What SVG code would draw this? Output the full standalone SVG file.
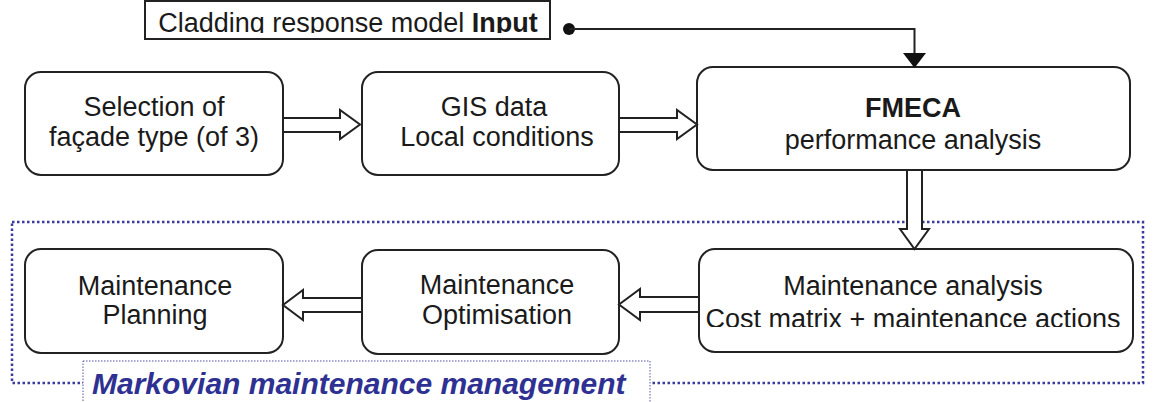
<svg xmlns="http://www.w3.org/2000/svg" width="1153" height="402" viewBox="0 0 1153 402">
  <style>
    .node { fill: #ffffff; stroke: #222222; stroke-width: 2; }
    .t { font-family: "Liberation Sans", Arial, sans-serif; font-size: 27px; fill: #1a1a1a; text-anchor: middle; }
    .b { font-weight: bold; }
    .hollow { fill: #ffffff; stroke: #222222; stroke-width: 2; stroke-linejoin: miter; }
    .frame { fill: none; stroke: #3b3b9e; stroke-width: 2.5; stroke-dasharray: 2.5 2.5; }
    .labelbox { fill: #ffffff; stroke: #5555aa; stroke-width: 1; stroke-dasharray: 1.5 1.5; }
    .label { font-family: "Liberation Sans", Arial, sans-serif; font-size: 30px; font-weight: bold; font-style: italic; fill: #2e3192; }
  </style>
  <defs>
    <clipPath id="clipTop"><rect x="0" y="0" width="1153" height="33"/></clipPath>
    <clipPath id="clipCost"><rect x="0" y="0" width="1153" height="327"/></clipPath>
  </defs>

  <rect width="1153" height="402" fill="#ffffff"/>

  <g id="markovian-frame">
    <rect class="frame" x="12" y="222" width="1131" height="161"/>
  </g>

  <g id="input">
    <rect x="145" y="1" width="405" height="38" fill="#ffffff" stroke="#222222" stroke-width="2"/>
    <text class="t" x="348" y="32" clip-path="url(#clipTop)">Cladding response model <tspan class="b">Input</tspan></text>
  </g>

  <g id="selection">
    <rect class="node" x="25" y="72" width="258" height="103" rx="16"/>
    <text class="t" x="154" y="116">Selection of</text>
    <text class="t" x="154" y="146">façade type (of 3)</text>
  </g>

  <g id="gis">
    <rect class="node" x="362" y="72" width="257" height="103" rx="16"/>
    <text class="t" x="494" y="116">GIS data</text>
    <text class="t" x="497" y="146">Local conditions</text>
  </g>

  <g id="fmeca">
    <rect class="node" x="697" y="67" width="433" height="103" rx="16"/>
    <text class="t b" x="913" y="117">FMECA</text>
    <text class="t" x="913" y="149">performance analysis</text>
  </g>

  <g id="planning">
    <rect class="node" x="25" y="249" width="258" height="104" rx="16"/>
    <text class="t" x="155" y="295">Maintenance</text>
    <text class="t" x="155" y="324">Planning</text>
  </g>

  <g id="optimisation">
    <rect class="node" x="362" y="250" width="257" height="104" rx="16"/>
    <text class="t" x="497" y="294">Maintenance</text>
    <text class="t" x="497" y="324">Optimisation</text>
  </g>

  <g id="analysis">
    <rect class="node" x="699" y="249" width="434" height="103" rx="16"/>
    <text class="t" x="913" y="295">Maintenance analysis</text>
    <text class="t" x="913" y="328" clip-path="url(#clipCost)">Cost matrix + maintenance actions</text>
  </g>

  <g id="connectors">
    <circle cx="569" cy="29" r="6" fill="#111111"/>
    <path d="M569,29 H914.5 V56" fill="none" stroke="#222222" stroke-width="2"/>
    <polygon points="903,53 926,53 914.5,68" fill="#111111"/>
    <polygon class="hollow" points="283,118 340,118 340,110 360,124.5 340,139 340,132 283,132"/>
    <polygon class="hollow" points="619,118 677,118 677,110 697,124.5 677,139 677,132 619,132"/>
    <polygon class="hollow" points="907,170 922,170 922,229 929,229 914.5,249 900,229 907,229"/>
    <polygon class="hollow" points="362,298 303,298 303,290 283,305 303,320 303,312 362,312"/>
    <polygon class="hollow" points="699,297 640,297 640,289 619,304.5 640,320 640,312 699,312"/>
  </g>

  <g id="markovian-label">
    <rect class="labelbox" x="83" y="361" width="567" height="50"/>
    <text class="label" x="92" y="394">Markovian maintenance management</text>
  </g>
</svg>
